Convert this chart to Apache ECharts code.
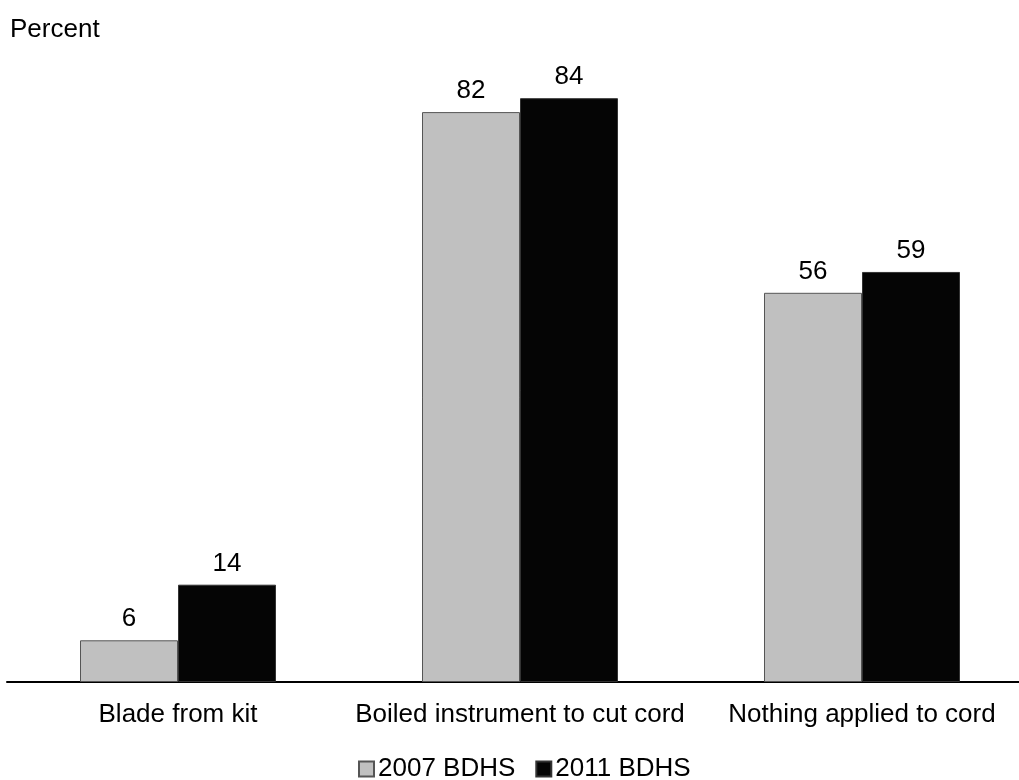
<!DOCTYPE html>
<html><head><meta charset="utf-8">
<script src="https://cdn.jsdelivr.net/npm/echarts@6/dist/echarts.min.js"></script>
<style>html,body{margin:0;padding:0;background:#fff}#c{width:1019px;height:780px}</style>
</head><body><div id="c"></div>
<script>
const categories = ['Blade from kit', 'Boiled instrument to cut cord', 'Nothing applied to cord'];
const series2007 = [6, 82, 56];
const series2011 = [14, 84, 59];
const seriesNames = ['2007 BDHS', '2011 BDHS'];

const chart = echarts.init(document.getElementById('c'));
const font = 'Liberation Sans, Arial, sans-serif';
chart.setOption({
  animation: false,
  textStyle: { fontFamily: font },
  title: { text: 'Percent', left: 10, top: 17, padding: 0, textStyle: { fontSize: 26, fontWeight: 'normal', color: '#000', fontFamily: font } },
  legend: {
    top: 756, left: 358, padding: 0, itemWidth: 15, itemHeight: 15, itemGap: 20,
    icon: 'rect',
    textStyle: { fontSize: 26, color: '#000', fontFamily: font, padding: [0, 0, 0, -1] },
    data: seriesNames
  },
  grid: { left: 7, right: -14, top: 56.5, bottom: 98, containLabel: false, outerBoundsMode: 'none' },
  xAxis: {
    type: 'category', data: categories,
    axisLine: { lineStyle: { color: '#000', width: 2 } },
    axisTick: { show: false },
    axisLabel: { fontSize: 26, color: '#000', margin: 20, fontFamily: font, interval: 0 }
  },
  yAxis: { type: 'value', min: 0, max: 90, show: false, splitLine: { show: false } },
  series: [
    {
      name: seriesNames[0], type: 'bar', data: series2007, barWidth: 98, barGap: '0%',
      itemStyle: { color: '#c0c0c0', borderColor: '#555', borderWidth: 1 },
      label: { show: true, position: 'top', distance: 8, fontSize: 26, color: '#000', fontFamily: font }
    },
    {
      name: seriesNames[1], type: 'bar', data: series2011, barWidth: 98, barGap: '0%',
      itemStyle: { color: '#050505', borderColor: '#333', borderWidth: 1 },
      label: { show: true, position: 'top', distance: 8, fontSize: 26, color: '#000', fontFamily: font }
    }
  ]
});
</script></body></html>
